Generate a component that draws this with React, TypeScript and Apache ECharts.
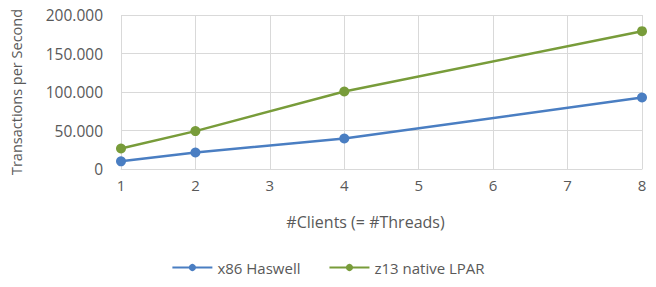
import React, { useEffect, useRef } from "react";
import * as echarts from "echarts";

const clients = [1, 2, 4, 8];
const x86Haswell = [10000, 21400, 39600, 92800];
const z13Lpar = [26600, 49200, 100600, 179000];
const seriesNames = ["x86 Haswell", "z13 native LPAR"];

const FONT = "'Open Sans', 'Noto Sans', sans-serif";
const GRAY = "#595959";

export default function App() {
  const ref = useRef<HTMLDivElement>(null);
  useEffect(() => {
    if (!ref.current) return;
    const chart = echarts.init(ref.current, undefined, { renderer: "svg" });
    chart.setOption({
      animation: false,
      textStyle: { fontFamily: FONT },
      grid: { left: 121, right: 14, top: 15, bottom: 118, containLabel: false },
      legend: {
        bottom: 7,
        left: "center",
        itemWidth: 40,
        itemHeight: 9,
        itemGap: 28,
        textStyle: { color: GRAY, fontSize: 15, fontFamily: FONT },
        data: seriesNames,
      },
      xAxis: {
        type: "value",
        min: 1,
        max: 8,
        interval: 1,
        name: "#Clients (= #Threads)",
        nameLocation: "middle",
        nameGap: 45,
        nameTextStyle: { color: GRAY, fontSize: 16, fontFamily: FONT, padding: [0, 32, 0, 0] },
        axisLine: { show: true, lineStyle: { color: "#d9d9d9" } },
        axisTick: { show: false },
        axisLabel: { color: GRAY, fontSize: 15, margin: 8, fontFamily: FONT },
        splitLine: { show: true, lineStyle: { color: "#d9d9d9" } },
      },
      yAxis: {
        type: "value",
        min: 0,
        max: 200000,
        interval: 50000,
        name: "Transactions per Second",
        nameLocation: "middle",
        nameGap: 97,
        nameRotate: 90,
        nameTextStyle: { color: GRAY, fontSize: 14.5, fontFamily: FONT },
        axisLine: { show: false },
        axisTick: { show: false },
        axisLabel: {
          color: GRAY,
          fontSize: 15.5,
          margin: 18,
          fontFamily: FONT,
          formatter: (v: number) => (v === 0 ? "0" : `${v / 1000}.000`),
        },
        splitLine: { show: true, lineStyle: { color: "#d9d9d9" } },
      },
      series: [
        {
          name: seriesNames[0],
          type: "line",
          data: clients.map((c, i) => [c, x86Haswell[i]]),
          symbol: "circle",
          symbolSize: 10,
          itemStyle: { color: "#4A7EC2" },
          lineStyle: { width: 2.5, color: "#4A7EC2" },
        },
        {
          name: seriesNames[1],
          type: "line",
          data: clients.map((c, i) => [c, z13Lpar[i]]),
          symbol: "circle",
          symbolSize: 10,
          itemStyle: { color: "#789C3A" },
          lineStyle: { width: 2.5, color: "#789C3A" },
        },
      ],
    });
    return () => chart.dispose();
  }, []);
  return <div ref={ref} style={{ width: 656, height: 287, position: "absolute", left: 0, top: 0 }} />;
}
